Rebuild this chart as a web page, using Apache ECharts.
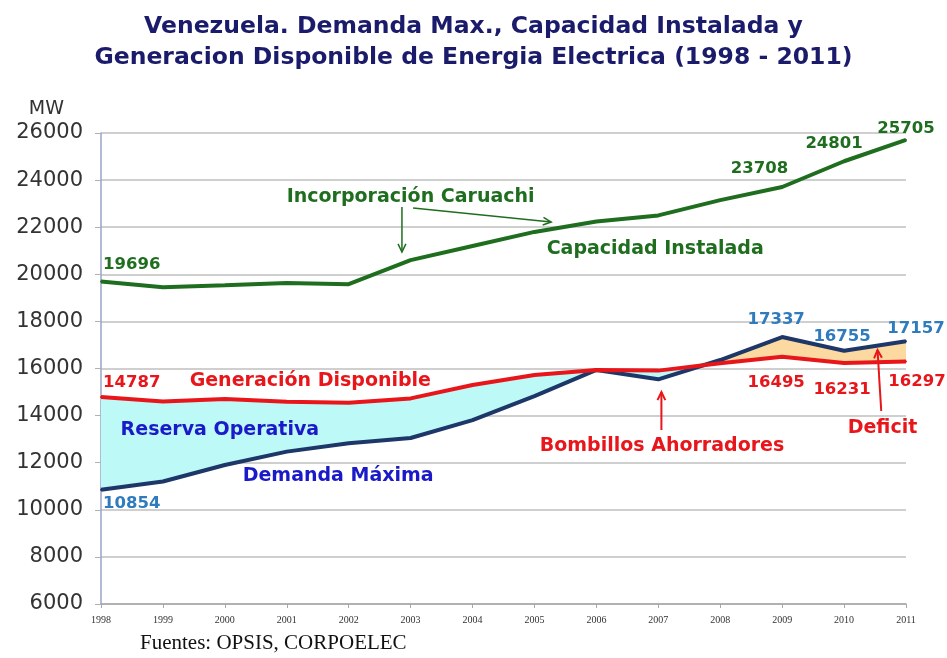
<!DOCTYPE html>
<html>
<head>
<meta charset="utf-8">
<script src="https://cdn.jsdelivr.net/npm/echarts@6/dist/echarts.min.js"></script>
<style>html,body{margin:0;padding:0;background:#fff;}#c{width:947px;height:658px;}</style>
</head>
<body>
<div id="c"></div>
<script>
const years = ['1998','1999','2000','2001','2002','2003','2004','2005','2006','2007','2008','2009','2010','2011'];
const capacidad = [19696, 19450, 19530, 19630, 19580, 20600, 21200, 21800, 22240, 22500, 23150, 23708, 24801, 25705];
const generacion = [14787, 14600, 14700, 14590, 14550, 14730, 15300, 15720, 15940, 15910, 16220, 16495, 16231, 16297];
const demanda = [10854, 11200, 11900, 12470, 12830, 13050, 13810, 14830, 15940, 15540, 16360, 17337, 16755, 17157];
const yTicks = [6000, 8000, 10000, 12000, 14000, 16000, 18000, 20000, 22000, 24000, 26000];

const GREEN = '#1f6e1f', RED = '#e8161b', NAVY = '#1d3768', LBLUE = '#2f7bbd', DBLUE = '#1a1ac8';
const labelFont = {fontFamily: 'DejaVu Sans', fontWeight: 'bold', fontSize: 16.5};

function withLabels(arr, cfg, color) {
  return arr.map((v, i) => {
    const c = cfg[i];
    if (!c) return v;
    return {value: v, label: Object.assign({show: true, color: color, formatter: '{c}'}, labelFont, c)};
  });
}

const capLabels = {
  0: {position: 'top', align: 'left', distance: 7, offset: [2, 0]},
  11: {position: 'top', align: 'right', distance: 9, offset: [6, 0]},
  12: {position: 'top', align: 'center', distance: 8, offset: [-10, 0]},
  13: {position: 'top', align: 'center', distance: 2, offset: [0, 0]}
};
const demLabels = {
  0: {position: 'bottom', align: 'left', distance: 5, offset: [2, 0]},
  11: {position: 'top', align: 'center', distance: 8, offset: [-6, 0]},
  12: {position: 'top', align: 'center', distance: 5, offset: [-2, 0]},
  13: {position: 'top', align: 'center', distance: 3, offset: [10, 0]}
};
const genLabels = {
  0: {position: 'top', align: 'left', distance: 5, offset: [2, 0]},
  11: {position: 'bottom', align: 'center', distance: 16, offset: [-6, 0]},
  12: {position: 'bottom', align: 'center', distance: 17, offset: [-2, 0]},
  13: {position: 'bottom', align: 'center', distance: 11, offset: [11, 0]}
};

const baseFill = demanda.map((d, i) => Math.min(d, generacion[i]));
const reserva = demanda.map((d, i) => Math.max(generacion[i] - d, 0));
const deficit = demanda.map((d, i) => Math.max(d - generacion[i], 0));

const chart = echarts.init(document.getElementById('c'), null, {renderer: 'canvas'});
const option = {
  backgroundColor: '#ffffff',
  animation: false,
  title: {
    text: 'Venezuela. Demanda Max., Capacidad Instalada y\nGeneracion Disponible de Energia Electrica (1998 - 2011)',
    left: 'center', top: 6,
    textStyle: {color: '#1b1b6b', fontFamily: 'DejaVu Sans', fontWeight: 'bold', fontSize: 23.5, lineHeight: 31}
  },
  grid: {left: 101, right: 41, top: 133, bottom: 54, containLabel: false},
  xAxis: {
    type: 'category', data: years, boundaryGap: false,
    axisLine: {lineStyle: {color: '#a8a8a8', width: 1.5}},
    axisTick: {show: true, length: 4, lineStyle: {color: '#a8a8a8'}},
    axisLabel: {color: '#333', fontFamily: 'Liberation Serif', fontSize: 10, margin: 11, interval: 0},
    splitLine: {show: false}
  },
  yAxis: {
    type: 'value', min: 6000, max: 26000, interval: 2000,
    name: 'MW', nameLocation: 'end', nameGap: 14,
    nameTextStyle: {color: '#333', fontFamily: 'DejaVu Sans', fontSize: 19, align: 'right', padding: [0, 37, 0, 0]},
    axisLine: {show: true, lineStyle: {color: '#98a4c8', width: 1.5}},
    axisTick: {show: true, length: 6, lineStyle: {color: '#b0b0b0'}},
    axisLabel: {color: '#333', fontFamily: 'DejaVu Sans', fontSize: 21, margin: 18,
      formatter: v => yTicks.includes(v) ? String(v) : ''},
    splitLine: {show: true, lineStyle: {color: '#cfcfcf', width: 2}}
  },
  series: [
    {name: 'base', type: 'line', stack: 'fill', data: baseFill, symbol: 'none', silent: true,
      lineStyle: {opacity: 0}, areaStyle: {opacity: 0}, z: 1},
    {name: 'Reserva Operativa', type: 'line', stack: 'fill', data: reserva, symbol: 'none', silent: true,
      lineStyle: {opacity: 0}, areaStyle: {color: '#bdf9f7', opacity: 1}, z: 1},
    {name: 'Deficit', type: 'line', stack: 'fill', data: deficit, symbol: 'none', silent: true,
      lineStyle: {opacity: 0}, areaStyle: {color: '#fcd9a0', opacity: 1}, z: 1},
    {name: 'Capacidad Instalada', type: 'line', data: withLabels(capacidad, capLabels, GREEN),
      symbol: 'circle', symbolSize: 2, showAllSymbol: true, itemStyle: {color: GREEN},
      lineStyle: {color: GREEN, width: 4}, z: 5},
    {name: 'Demanda Máxima', type: 'line', data: withLabels(demanda, demLabels, LBLUE),
      symbol: 'circle', symbolSize: 2, showAllSymbol: true, itemStyle: {color: NAVY},
      lineStyle: {color: NAVY, width: 4}, z: 5},
    {name: 'Generación Disponible', type: 'line', data: withLabels(generacion, genLabels, RED),
      symbol: 'circle', symbolSize: 2, showAllSymbol: true, itemStyle: {color: RED},
      lineStyle: {color: RED, width: 4}, z: 6}
  ]
};
chart.setOption(option);

// annotations anchored in data space (fractional category index, value)
function P(x, y) {
  const i0 = Math.floor(x), i1 = Math.min(i0 + 1, years.length - 1), f = x - i0;
  const a = chart.convertToPixel({gridIndex: 0}, [i0, y]);
  const b = chart.convertToPixel({gridIndex: 0}, [i1, y]);
  return [a[0] + (b[0] - a[0]) * f, a[1]];
}
const annFont = {fontFamily: 'DejaVu Sans', fontWeight: 'bold', fontSize: 19};
function txt(pos, text, color) {
  return {type: 'text', x: pos[0], y: pos[1], z: 20,
    style: Object.assign({}, annFont, {text: text, fill: color, align: 'center', verticalAlign: 'middle'})};
}
function arrow(a, b, color, w) {
  const ang = Math.atan2(b[1] - a[1], b[0] - a[0]);
  const L = 9, s = 0.45;
  const h1 = [b[0] - L * Math.cos(ang - s), b[1] - L * Math.sin(ang - s)];
  const h2 = [b[0] - L * Math.cos(ang + s), b[1] - L * Math.sin(ang + s)];
  return [
    {type: 'line', z: 20, shape: {x1: a[0], y1: a[1], x2: b[0], y2: b[1]}, style: {stroke: color, lineWidth: w || 1.5}},
    {type: 'polyline', z: 20, shape: {points: [h1, b, h2]}, style: {stroke: color, lineWidth: w || 1.5, fill: null}}
  ];
}
const g = [];
g.push(txt(P(5.0, 23282), 'Incorporación Caruachi', GREEN));
g.push(...arrow(P(4.86, 22858), P(4.86, 20947), GREEN));
g.push(...arrow(P(5.04, 22815), P(7.27, 22221), GREEN));
g.push(txt(P(8.95, 21075), 'Capacidad Instalada', GREEN));
g.push(txt(P(3.38, 15470), 'Generación Disponible', RED));
g.push(txt(P(1.92, 13390), 'Reserva Operativa', DBLUE));
g.push(txt(P(3.83, 11435), 'Demanda Máxima', DBLUE));
g.push(txt(P(9.06, 12709), 'Bombillos Ahorradores', RED));
g.push(...arrow(P(9.05, 13388), P(9.05, 15002), RED, 2));
g.push(txt(P(12.62, 13473), 'Deficit', RED));
g.push(...arrow(P(12.60, 14195), P(12.54, 16786), RED, 2));
g.push({type: 'text', left: 140, top: 633, z: 20,
  style: {text: 'Fuentes: OPSIS, CORPOELEC', fill: '#111', fontFamily: 'Liberation Serif', fontSize: 21}});
chart.setOption({graphic: {elements: g}});
</script>
</body>
</html>
